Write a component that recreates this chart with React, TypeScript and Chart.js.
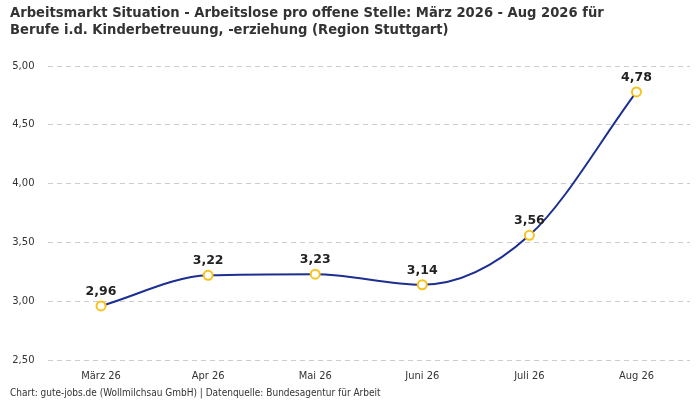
import React, { useEffect, useRef } from "react";
import { Chart, registerables } from "chart.js";

Chart.register(...registerables);

const categories = ["März 26", "Apr 26", "Mai 26", "Juni 26", "Juli 26", "Aug 26"];
const values = [2.96, 3.22, 3.23, 3.14, 3.56, 4.78];
const titleLines = [
  "Arbeitsmarkt Situation - Arbeitslose pro offene Stelle: März 2026 - Aug 2026 für",
  "Berufe i.d. Kinderbetreuung, -erziehung (Region Stuttgart)",
];
const footerText = "Chart: gute-jobs.de (Wollmilchsau GmbH) | Datenquelle: Bundesagentur für Arbeit";

const fmt = (v: number) => v.toFixed(2).replace(".", ",");
const condensed = "'DejaVu Sans Condensed', 'Liberation Sans Narrow', sans-serif";

const valueLabels = {
  id: "valueLabels",
  afterDatasetsDraw(chart: any) {
    const { ctx } = chart;
    const meta = chart.getDatasetMeta(0);
    ctx.save();
    ctx.font = "bold 12.5px 'DejaVu Sans', sans-serif";
    ctx.fillStyle = "#222";
    ctx.textAlign = "center";
    ctx.textBaseline = "bottom";
    meta.data.forEach((pt: any, i: number) => {
      ctx.fillText(fmt(chart.data.datasets[0].data[i]), pt.x, pt.y - 8);
    });
    ctx.restore();
  },
};

export default function App() {
  const ref = useRef<HTMLCanvasElement>(null);
  useEffect(() => {
    document.body.style.margin = "0";
    const chart = new Chart(ref.current!, {
      type: "line",
      data: {
        labels: categories,
        datasets: [
          {
            data: values,
            borderColor: "#1c2f91",
            borderWidth: 2,
            cubicInterpolationMode: "monotone",
            pointRadius: 4.5,
            pointHoverRadius: 4.5,
            pointBackgroundColor: "#ffffff",
            pointBorderColor: "#f7c31b",
            pointBorderWidth: 2,
            fill: false,
          },
        ],
      },
      options: {
        animation: false,
        responsive: false,
        layout: { padding: { left: 10, right: 10, top: 0, bottom: 0 } },
        plugins: {
          legend: { display: false },
          tooltip: { enabled: false },
          title: {
            display: true,
            text: titleLines,
            align: "start",
            color: "#333",
            font: { family: condensed, size: 14.6, weight: "bold", lineHeight: 1.2 },
            padding: { top: 4, bottom: 27 },
          },
          subtitle: {
            display: true,
            position: "bottom",
            text: footerText,
            align: "start",
            color: "#333",
            font: { family: condensed, size: 10, lineHeight: 1.2 },
            padding: { top: 0, bottom: 1 },
          },
        },
        scales: {
          x: {
            offset: true,
            grid: { display: false, drawTicks: false },
            border: { display: false },
            ticks: { color: "#333", font: { family: condensed, size: 11, lineHeight: 1.4 }, padding: 8 },
            afterFit: (scale: any) => {
              scale.height = 27;
            },
          },
          y: {
            min: 2.5,
            max: 5,
            border: { display: false, dash: [5, 4] },
            grid: { color: "#cccccc", drawTicks: false },
            ticks: {
              stepSize: 0.5,
              color: "#333",
              padding: 13,
              font: { family: "'DejaVu Sans', sans-serif", size: 10 },
              callback: (v: any) => fmt(Number(v)),
            },
            afterFit: (scale: any) => {
              scale.width = 37.5;
            },
          },
        },
      },
      plugins: [valueLabels],
    });
    return () => chart.destroy();
  }, []);
  return (
    <div style={{ width: 700, height: 400, background: "#fff" }}>
      <canvas ref={ref} width={700} height={400} />
    </div>
  );
}
